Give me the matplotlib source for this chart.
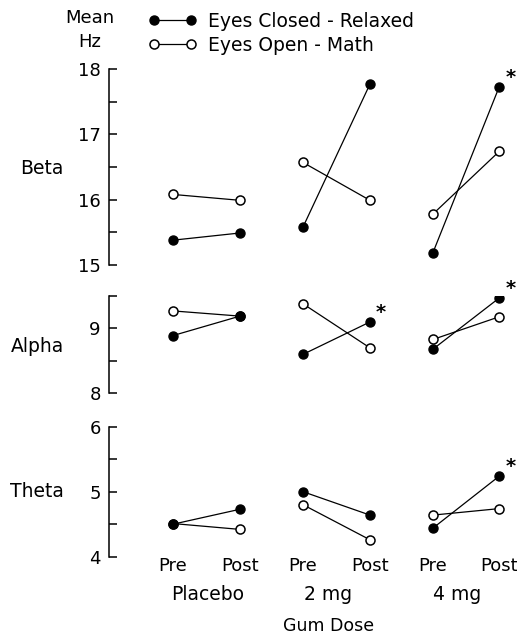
"""EEG mean frequency by band, pre/post gum dose, two conditions"""
import matplotlib
matplotlib.use("Agg")
import matplotlib.pyplot as plt
from matplotlib.lines import Line2D
from matplotlib.ticker import MultipleLocator

plt.rcParams["font.family"] = "DejaVu Sans"
plt.rcParams["font.size"] = 12

# x positions: Pre/Post for each dose group
xpos = [0, 1, 1.94, 2.94, 3.88, 4.87]
xlabels = ["Pre", "Post", "Pre", "Post", "Pre", "Post"]
groups = ["Placebo", "2 mg", "4 mg"]
group_x = [0.51, 2.31, 4.24]

bands = ["Beta", "Alpha", "Theta"]
# values ordered Placebo pre/post, 2mg pre/post, 4mg pre/post
beta_closed = [15.38, 15.49, 15.58, 17.77, 15.19, 17.73]
beta_open = [16.08, 15.99, 16.57, 15.99, 15.78, 16.74]
alpha_closed = [8.89, 9.19, 8.60, 9.10, 8.68, 9.47]
alpha_open = [9.27, 9.19, 9.38, 8.70, 8.83, 9.18]
theta_closed = [4.50, 4.73, 5.00, 4.64, 4.44, 5.24]
theta_open = [4.51, 4.42, 4.80, 4.26, 4.64, 4.74]

closed = [beta_closed, alpha_closed, theta_closed]
opened = [beta_open, alpha_open, theta_open]

# y ranges and major ticks per band
ylims = [(15, 18), (8, 9.5), (4, 6)]
majors = [[15, 16, 17, 18], [8, 9], [4, 5, 6]]

# significant (starred) eyes-closed points: (band index, x index)
stars = [(0, 5), (1, 3), (1, 5), (2, 5)]

W, H = 517, 639
fig = plt.figure(figsize=(W / 100, H / 100), dpi=100)

# axes extents in pixels: (top, bottom)
rows_px = [(69, 265), (296, 393.3), (426.7, 556.7)]
left_px, right_px = 109, 517
xlim = ((left_px - 173) / 67, (right_px - 173) / 67)

axes = []
for i, (top, bot) in enumerate(rows_px):
    ax = fig.add_axes([left_px / W, 1 - bot / H, (right_px - left_px) / W, (bot - top) / H])
    ax.set_xlim(*xlim)
    ax.set_ylim(*ylims[i])
    for s in ["top", "right", "bottom"]:
        ax.spines[s].set_visible(False)
    ax.spines["left"].set_linewidth(1.1)
    ax.set_yticks(majors[i])
    ax.set_yticklabels([str(v) for v in majors[i]])
    ax.yaxis.set_minor_locator(MultipleLocator(0.5))
    ax.tick_params(axis="y", which="both", direction="in", length=6, width=1.1, pad=6)
    ax.tick_params(axis="y", labelsize=13)
    ax.set_xticks([])
    ax.patch.set_alpha(0)

    for g in range(3):
        xs = xpos[2 * g:2 * g + 2]
        ax.plot(xs, opened[i][2 * g:2 * g + 2], "-o", color="k", lw=0.9,
                ms=6.5, mfc="white", mec="k", mew=1.1, zorder=3)
        ax.plot(xs, closed[i][2 * g:2 * g + 2], "-o", color="k", lw=0.9,
                ms=6.5, mfc="k", mec="k", zorder=4)
    axes.append(ax)

for b, xi in stars:
    axes[b].annotate("*", (xpos[xi], closed[b][xi]), xytext=(8, 0),
                     textcoords="offset points", fontsize=14, fontweight="bold",
                     ha="center", va="bottom")

# band labels
band_y = [168, 346.7, 491.7]
for name, y in zip(bands, band_y):
    fig.text(64 / W, 1 - y / H, name, ha="right", va="center", fontsize=13.5)

fig.text(90 / W, 1 - 18 / H, "Mean", ha="center", va="center", fontsize=13)
fig.text(90 / W, 1 - 42 / H, "Hz", ha="center", va="center", fontsize=13)

# x labels under theta panel
ax = axes[2]
for x, lab in zip(xpos, xlabels):
    ax.annotate(lab, (x, 0), xycoords=("data", "axes fraction"), xytext=(0, -6.5),
                textcoords="offset points", ha="center", va="center", fontsize=13)
for x, lab in zip(group_x, groups):
    ax.annotate(lab, (x, 0), xycoords=("data", "axes fraction"), xytext=(0, -27.5),
                textcoords="offset points", ha="center", va="center", fontsize=13.5)
fig.text(329 / W, 1 - 626 / H, "Gum Dose", ha="center", va="center", fontsize=12.5)

# legend
handles = [
    Line2D([], [], color="k", lw=0.9, marker="o", ms=6.5, mfc="k", mec="k"),
    Line2D([], [], color="k", lw=0.9, marker="o", ms=6.5, mfc="white", mec="k", mew=1.1),
]
fig.legend(handles, ["Eyes Closed - Relaxed", "Eyes Open - Math"], numpoints=2,
           loc="upper left", bbox_to_anchor=(148 / W, 1 - 12 / H), frameon=False,
           handlelength=2.6, handletextpad=0.6, labelspacing=0.25, fontsize=13.5,
           borderpad=0, borderaxespad=0)

fig.savefig("out.png", dpi=100)
